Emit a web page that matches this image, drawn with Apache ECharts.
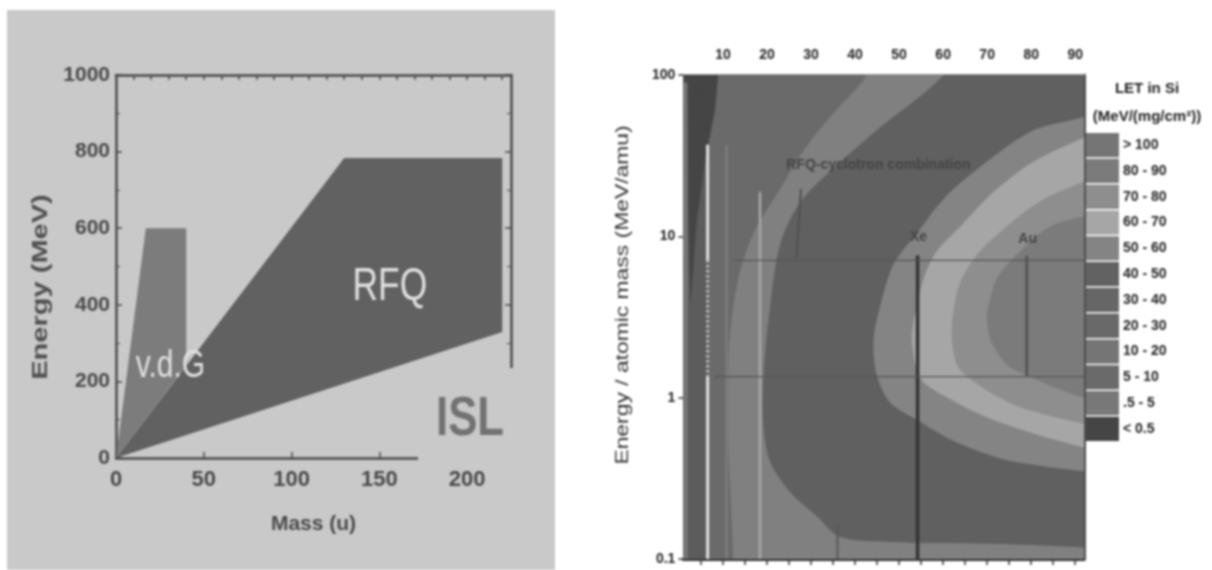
<!DOCTYPE html>
<html><head><meta charset="utf-8">
<style>html,body{margin:0;padding:0;background:#fff}#c{width:1212px;height:570px;filter:blur(0.9px)}</style>
<script src="https://cdn.jsdelivr.net/npm/echarts@6/dist/echarts.min.js"></script>
</head><body><div id="c"></div>
<script>
// ---------- left panel data: [mass (u), energy (MeV)] ----------
const rfqArea = [[0,0],[220,329],[220,783],[130,783]];
const vdgArea = [[0,0],[17,600],[40,600],[40,243]];
const massLabels = [0,50,100,150,200];
const energyLabels = [0,200,400,600,800,1000];
const massTopTicks = [10,20,30,40,50,60,70,80,90,100,110,120,130,140,150,160,170,180,190,200,210,220];

// ---------- right panel data: [Z, energy per amu (MeV/amu)] ----------
const zLabels = [10,20,30,40,50,60,70,80,90];
const zTicks = [5,10,15,20,25,30,35,40,45,50,55,60,65,70,75,80,85,90];
const letBandNames = ['> 100','80 - 90','70 - 80','60 - 70','50 - 60','40 - 50','30 - 40','20 - 30','10 - 20','5 - 10','.5 - 5','< 0.5'];
const letBandColors = ['#757575','#7b7b7b','#8e8e8e','#a6a6a6','#848484','#626262','#666666','#696969','#757575','#6a6a6a','#787878','#454545'];

const bandFloor = [[1,100],[92,100],[92,0.1],[1,0.1]];
const bandEdge = [[1,100],[1,0.1],[2,0.1],[2,100]];
const band10to20 = [[45,160],[42.7,100],[34.3,55],[28.3,34],[23,19.7],[16.9,10.4],[13.5,5.5],[11.6,2.5],[11.2,1.38],[11.2,0.52],[12.3,0.1],[12,0.06],[110,0.06],[110,160]];
const band20to30 = [[63,160],[60.1,100],[44.9,45.5],[35.1,26.5],[27.5,16.2],[23,9],[20.7,3.7],[19.2,1.38],[19.2,0.66],[20.7,0.4],[25.2,0.26],[31.3,0.184],[36.6,0.137],[50.2,0.127],[73,0.124],[92,0.118],[110,0.112],[110,160]];
const band50to60 = [[100,66],[92,55],[80.5,45.5],[69.9,29],[60.8,17.9],[54,10.4],[48.7,6.7],[45.7,3.7],[44.2,2.3],[44.9,1.38],[48,0.93],[54,0.73],[62.3,0.54],[73,0.42],[82.8,0.376],[92,0.35],[100,0.33],[110,3]];
const band60to70 = [[100,50],[92,41],[80.5,29],[71.4,18.8],[63.9,11.5],[58.6,8.1],[55.9,5.8],[54,3.7],[52.9,2.3],[54.8,1.32],[60.1,1.03],[69.2,0.77],[80.5,0.6],[92,0.49],[100,0.43],[110,3]];
const band70to80 = [[100,26],[92,21.8],[82.8,17],[75.2,12],[67.7,7.7],[63.9,5.2],[62.3,3.4],[62,2.3],[63.5,1.53],[69.2,1.14],[76.7,0.89],[84.3,0.77],[92,0.69],[100,0.62],[110,3]];
const band80to90 = [[100,15],[92,13.3],[84.3,11.5],[77.5,8.1],[72.2,5.5],[70.3,3.7],[69.9,3.2],[70.7,2.3],[74.5,1.6],[80.5,1.32],[88.1,1.08],[92,1],[100,0.9],[110,3]];
const wedgeBelow05 = [[1,100],[8.9,100],[8.2,61],[6,30],[4,12],[2.6,3.7],[2.1,12],[1.9,90],[1,90]];
const stripColumn = [[2,100],[6.3,100],[6.3,0.1],[2,0.1]];

const ionLines = [
  {name:'C', color:'#e2e2e2', width:3, dash:'solid', pts:[[6.5,37],[6.5,7.1]]},
  {name:'C dotted', color:'#cfcfcf', width:3, dash:[2,3], pts:[[6.5,7.1],[6.5,1.35]]},
  {name:'C low', color:'#e2e2e2', width:3, dash:'solid', pts:[[6.5,1.35],[6.5,0.1]]},
  {name:'Ne', color:'#808080', width:2, dash:'solid', pts:[[10.8,37],[10.8,0.1]]},
  {name:'Ar', color:'#a9a9a9', width:2.5, dash:'solid', pts:[[18.4,18.8],[18.4,0.1]]},
  {name:'Fe', color:'#505050', width:2, dash:'solid', pts:[[27.7,19.7],[26.7,7.4]]},
  {name:'Kr', color:'#585858', width:2, dash:'solid', pts:[[36,0.16],[36,0.1]]},
  {name:'Xe', color:'#333333', width:3.5, dash:'solid', pts:[[54.2,7.6],[54.2,0.1]]},
  {name:'Au', color:'#555555', width:3, dash:'solid', pts:[[79,7.6],[79,1.35]]},
  {name:'RFQ limit', color:'#555555', width:1.2, dash:'solid', pts:[[12.5,7.1],[92,7.1]]},
  {name:'Cyclotron limit', color:'#555555', width:1.2, dash:'solid', pts:[[8,1.35],[92,1.35]]}
];
const rightNotes = [
  {name:'RFQ-cyclotron combination', value:[45.3,27.8], size:14},
  {name:'Xe', value:[54.4,9.9], size:14},
  {name:'Au', value:[79.2,9.6], size:14},
  {name:'H', value:[4.5,80], size:10},
  {name:'C', value:[6,47], size:11}
];
const leftNotes = [
  {name:'RFQ', value:[156,446], size:46},
  {name:'v.d.G', value:[31,240], size:39}
];

const sans = '"Liberation Sans",sans-serif';

function polygonSeries(name, color, pts, xi, yi, smooth, z) {
  return {
    type:'custom', name, xAxisIndex:xi, yAxisIndex:yi, z: z,
    coordinateSystem:'cartesian2d', silent:true,
    itemStyle:{color}, data:pts, encode:{x:0,y:1},
    renderItem(params, api) {
      if (params.dataIndex !== 0) return null;
      const cs = params.coordSys;
      return {
        type:'polygon',
        shape:{points:pts.map(p => api.coord(p)), smooth: smooth},
        style:{fill:color},
        clipPath:{type:'rect', shape:{x:cs.x,y:cs.y,width:cs.width,height:cs.height}}
      };
    }
  };
}
function noteSeries(notes, xi, yi, color, weight, squeeze) {
  return {
    type:'custom', name:'notes'+xi, xAxisIndex:xi, yAxisIndex:yi, silent:true, z:20,
    coordinateSystem:'cartesian2d', data:notes.map(n => n.value), encode:{x:0,y:1},
    renderItem(params, api) {
      const n = notes[params.dataIndex];
      const p = api.coord(n.value);
      return {type:'text', x:p[0], y:p[1], scaleX:squeeze,
        style:{text:n.name, align:'center', verticalAlign:'middle', fill:color,
          font:weight+' '+n.size+'px '+sans}};
    }
  };
}
const bandColor = n => letBandColors[letBandNames.indexOf(n)];

const series = [
  polygonSeries('RFQ area', '#616161', rfqArea, 0, 0, 0, 3),
  polygonSeries('v.d.G area', '#7c7c7c', vdgArea, 0, 0, 0, 4),
  polygonSeries('5 - 10', bandColor('5 - 10'), bandFloor, 2, 2, 0, 3),
  polygonSeries('.5 - 5', bandColor('.5 - 5'), bandEdge, 2, 2, 0, 3),
  polygonSeries('strip', '#5c5c5c', stripColumn, 2, 2, 0, 3),
  polygonSeries('10 - 20', '#808080', band10to20, 2, 2, 0.3, 3),
  polygonSeries('20 - 30', '#606060', band20to30, 2, 2, 0.3, 3),
  polygonSeries('50 - 60', bandColor('50 - 60'), band50to60, 2, 2, 0.3, 3),
  polygonSeries('60 - 70', bandColor('60 - 70'), band60to70, 2, 2, 0.3, 3),
  polygonSeries('70 - 80', bandColor('70 - 80'), band70to80, 2, 2, 0.3, 3),
  polygonSeries('80 - 90', bandColor('80 - 90'), band80to90, 2, 2, 0.3, 3),
  polygonSeries('< 0.5', bandColor('< 0.5'), wedgeBelow05, 2, 2, 0, 3)
];
// bands with no visible area on this plot still need a legend swatch
['> 100','40 - 50','30 - 40'].forEach(n => series.push({
  type:'custom', name:n, xAxisIndex:2, yAxisIndex:2, itemStyle:{color:bandColor(n)}, data:[], renderItem(){return null;}
}));
ionLines.forEach(l => series.push({
  type:'line', name:l.name, xAxisIndex:2, yAxisIndex:2, data:l.pts, showSymbol:false, silent:true, z:10,
  lineStyle:{color:l.color, width:l.width, type:l.dash}
}));
series.push(noteSeries(leftNotes, 0, 0, '#e0e0e0', 'normal', 0.77));
series.push(noteSeries(rightNotes, 2, 2, '#444444', 'bold', 1));

const edge = '#4a4a4a';
const flat = {onZero:false};
const ink = '#222';
const option = {
  animation:false,
  backgroundColor:'#ffffff',
  grid:[
    {left:116, top:75, width:395, height:383, containLabel:false},
    {left:683.4, top:75, width:400.6, height:484, containLabel:false}
  ],
  title:{text:'LET in Si\n(MeV/(mg/cm²))', left:1142, top:70, textAlign:'center',
    textStyle:{fontFamily:sans, fontSize:15, fontWeight:'bold', color:ink, lineHeight:28}},
  legend:{left:1086, top:133, orient:'vertical', selectedMode:false, icon:'rect',
    itemWidth:33, itemHeight:24.3, itemGap:1.5, padding:0,
    data:letBandNames.map((n,i) => ({name:n, itemStyle:{color:letBandColors[i]}})),
    textStyle:{fontFamily:sans, fontSize:14, fontWeight:'bold', color:ink, padding:[0,0,0,-1]}},
  xAxis:[
    {gridIndex:0, type:'value', min:0, max:225, position:'bottom', name:'Mass (u)', nameLocation:'middle', nameGap:56,
      nameTextStyle:{fontFamily:sans, fontSize:21, fontWeight:'bold', color:'#4a4a4a'},
      axisLine:{...flat, show:true, lineStyle:{color:edge,width:2.5}},
      axisTick:{show:true, inside:true, length:6, lineStyle:{color:edge,width:1.5}, customValues:massLabels},
      axisLabel:{fontFamily:sans, fontSize:22, fontWeight:'bold', color:'#4a4a4a', margin:11, customValues:massLabels}, splitLine:{show:false}},
    {gridIndex:0, type:'value', min:0, max:225, position:'top',
      axisLine:{...flat, show:true, lineStyle:{color:edge,width:2.5}},
      axisTick:{show:true, inside:true, length:5, lineStyle:{color:edge,width:1.5}, customValues:massTopTicks},
      axisLabel:{show:false}, splitLine:{show:false}},
    {gridIndex:1, type:'value', min:1, max:92, position:'top',
      axisLine:{...flat, show:true, lineStyle:{color:'#9a9a9a',width:2}},
      axisTick:{show:true, inside:true, length:4, lineStyle:{color:'#666'}, customValues:zLabels},
      axisLabel:{fontFamily:sans, fontSize:14, fontWeight:'bold', color:ink, margin:13, customValues:zLabels}, splitLine:{show:false}},
    {gridIndex:1, type:'value', min:1, max:92, position:'bottom',
      axisLine:{...flat, show:true, lineStyle:{color:'#333',width:3}},
      axisTick:{show:true, inside:false, length:6, lineStyle:{color:'#333',width:1.5}, customValues:zTicks},
      axisLabel:{show:false}, splitLine:{show:false}}
  ],
  yAxis:[
    {gridIndex:0, type:'value', min:0, max:1000, interval:200, position:'left',
      axisLine:{...flat, show:true, lineStyle:{color:edge,width:2.5}},
      axisTick:{show:true, inside:true, length:6, lineStyle:{color:edge,width:1.5}},
      minorTick:{show:true, splitNumber:2, length:4, lineStyle:{color:edge}},
      axisLabel:{fontFamily:sans, fontSize:21, fontWeight:'bold', color:'#4a4a4a', margin:6, formatter:v=>String(v)}, splitLine:{show:false}},
    {gridIndex:0, type:'value', min:0, max:1000, interval:200, position:'right',
      axisLine:{...flat, show:true, lineStyle:{color:edge,width:2.5}},
      axisTick:{show:true, inside:true, length:6, lineStyle:{color:edge,width:1.5}},
      minorTick:{show:true, splitNumber:2, length:4, lineStyle:{color:edge}},
      axisLabel:{show:false}, splitLine:{show:false}},
    {gridIndex:1, type:'log', logBase:10, min:0.1, max:100, position:'left',
      axisLine:{...flat, show:true, lineStyle:{color:'#555',width:2}},
      axisTick:{show:true, inside:false, length:5, lineStyle:{color:'#333',width:1.5}},
      minorTick:{show:false},
      axisLabel:{fontFamily:sans, fontSize:14, fontWeight:'bold', color:ink, margin:8}, splitLine:{show:false}},
    {gridIndex:1, type:'log', logBase:10, min:0.1, max:100, position:'right',
      axisLine:{...flat, show:true, lineStyle:{color:'#4f4f4f',width:3}},
      axisTick:{show:false}, axisLabel:{show:false}, splitLine:{show:false}}
  ],
  graphic:[
    {type:'rect', z:-10, silent:true, shape:{x:7,y:10,width:548,height:560}, style:{fill:'#c9c9c9'}},
    {type:'rect', z:50, silent:true, shape:{x:418,y:368,width:135,height:95}, style:{fill:'#c9c9c9'}},
    {type:'text', z:51, silent:true, x:470, y:420, scaleX:0.78, style:{text:'ISL', align:'center', verticalAlign:'middle', font:'bold 56px '+sans, fill:'#727272'}},
    {type:'text', z:51, silent:true, x:41, y:287, rotation:Math.PI/2, scaleX:1.32,
      style:{text:'Energy (MeV)', align:'center', verticalAlign:'middle', font:'bold 22px '+sans, fill:'#505050'}},
    {type:'text', z:51, silent:true, x:623, y:295, rotation:Math.PI/2, scaleX:1.27,
      style:{text:'Energy / atomic mass (MeV/amu)', align:'center', verticalAlign:'middle', font:'18px '+sans, fill:'#333'}}
  ],
  series
};
echarts.init(document.getElementById('c'), null, {renderer:'canvas'}).setOption(option);
</script></body></html>
